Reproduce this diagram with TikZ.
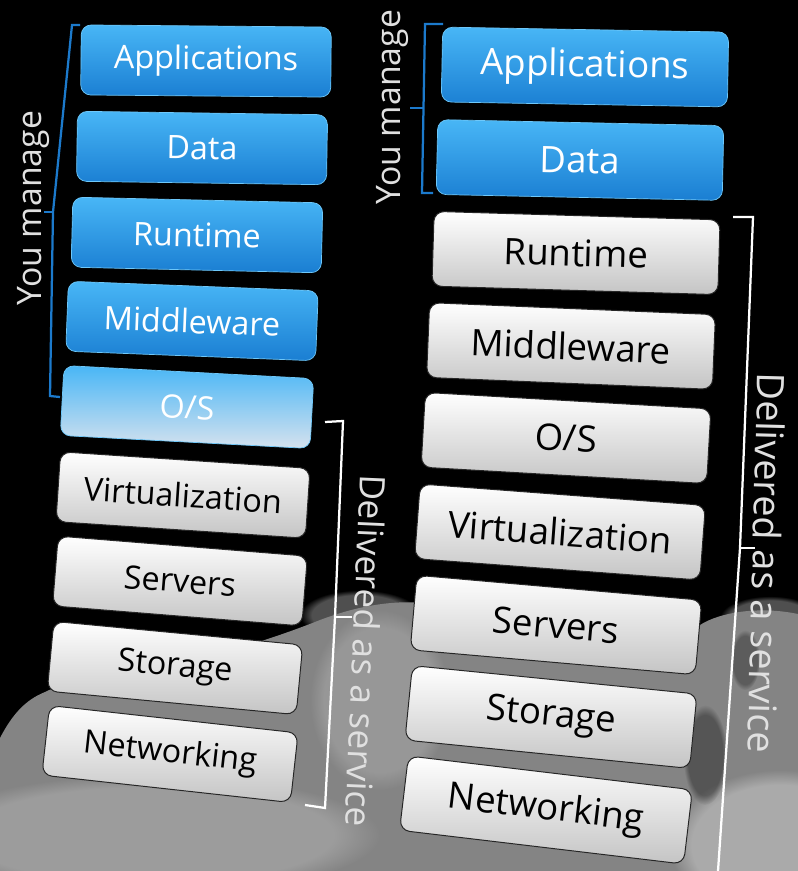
\documentclass[tikz,border=0pt]{standalone}
\usepackage{fontspec}
\setmainfont{Open Sans}
\usetikzlibrary{fadings}
\definecolor{mbluetop}{RGB}{72,182,246}
\definecolor{mbluebot}{RGB}{26,126,210}
\definecolor{mblueline}{RGB}{110,200,250}
\definecolor{osbot}{RGB}{214,226,238}
\definecolor{osmid}{RGB}{150,205,245}
\definecolor{greybot}{RGB}{196,196,196}
\definecolor{cloudgrey}{RGB}{132,132,132}
\definecolor{cloudlight}{RGB}{180,180,180}
\definecolor{bracketblue}{RGB}{28,122,204}

\tikzset{
  layer/.style={rounded corners=0.25cm, inner sep=0pt, draw},
  leftlayer/.style={layer, minimum width=6.25cm, minimum height=1.75cm, font=\fontsize{23}{23}\selectfont},
  rightlayer/.style={layer, minimum width=7.15cm, minimum height=1.87cm, font=\fontsize{26}{26}\selectfont},
  yours/.style={top color=mbluetop, bottom color=mbluebot, draw=mblueline, line width=0.5pt, text=white},
  osyours/.style={top color=mbluetop, middle color=osmid, bottom color=osbot, draw=mblueline, line width=0.5pt, text=white},
  theirs/.style={top color=white, bottom color=greybot, draw=black!85, line width=0.7pt, text=black},
  bluebracket/.style={draw=bracketblue, line width=1.6pt},
  whitebracket/.style={draw=white, line width=1.6pt},
  sidelabel/.style={text=white!88!black, font=\fontsize{24}{24}\selectfont},
  puff/.style={path fading=circle with fuzzy edge 20 percent},
}

\begin{document}
\begin{tikzpicture}[x=0.025cm, y=-0.025cm]
  %%%%% BACKGROUND %%%%%
  \fill[black] (0,0) rectangle (798,871);
  \useasboundingbox (0,0) rectangle (798,871);

  % cloud
  \fill[cloudgrey] (0,871) -- (0,738) .. controls (12,715) and (25,700) .. (45,692)
    .. controls (60,684) and (90,680) .. (120,676)
    .. controls (200,662) and (270,640) .. (320,620)
    .. controls (360,605) and (400,598) .. (440,605)
    -- (700,625) .. controls (720,612) and (760,606) .. (798,614) -- (798,871) -- cycle;
  \fill[cloudgrey, puff, opacity=0.6] (360,615) ellipse (60 and 25);
  \fill[cloudgrey, puff, opacity=0.6] (770,618) ellipse (50 and 22);
  \fill[cloudlight, puff, opacity=0.8] (780,845) ellipse (110 and 75);
  \fill[cloudlight, puff, opacity=0.5] (150,835) ellipse (230 and 60);
  \fill[cloudlight, puff, opacity=0.4] (380,700) ellipse (70 and 90);
  \fill[black, puff, opacity=0.35] (705,755) ellipse (22 and 50);
  \fill[black, puff, opacity=0.3] (745,660) ellipse (15 and 30);

  %%%%% LEFT STACK %%%%%
  \node[leftlayer, yours, rotate=-0.5] (appL) at (206,61) {Applications};
  \node[leftlayer, yours, rotate=-0.8] (dataL) at (202,148) {Data};
  \node[leftlayer, yours, rotate=-1.3] (runL) at (197,235) {Runtime};
  \node[leftlayer, yours, rotate=-2.2] (midL) at (192,321) {Middleware};
  \node[leftlayer, osyours, rotate=-3] (osL) at (187,407) {O/S};
  \node[leftlayer, theirs, rotate=-3.8] (virtL) at (183,495) {Virtualization};
  \node[leftlayer, theirs, rotate=-4.6] (servL) at (180,581) {Servers};
  \node[leftlayer, theirs, rotate=-5.4] (storL) at (175,668) {Storage};
  \node[leftlayer, theirs, rotate=-6.3] (netL) at (170,754) {Networking};

  % brackets
  \draw[bluebracket] (80,25) -- (72,25) -- (53,212) -- (50,396) -- (60,397);
  \draw[bluebracket] (53,212) -- (44,212);
  \node[sidelabel, rotate=90] (manageL) at (34,208) {You manage};

  \draw[whitebracket] (325,422) -- (343,421) -- (335,617) -- (325,808) -- (305,805);
  \draw[whitebracket] (335,617) -- (352,617);
  \node[sidelabel, font=\fontsize{25}{25}\selectfont, rotate=-92.5] (serviceL) at (366,651) {Delivered as a service};

  %%%%% RIGHT STACK %%%%%
  \node[rightlayer, yours, rotate=-1] (appR) at (585,67) {Applications};
  \node[rightlayer, yours, rotate=-1.2] (dataR) at (580,160) {Data};
  \node[rightlayer, theirs, rotate=-1.7] (runR) at (576,253) {Runtime};
  \node[rightlayer, theirs, rotate=-2.4] (midR) at (571,346) {Middleware};
  \node[rightlayer, theirs, rotate=-3.3] (osR) at (566,438) {O/S};
  \node[rightlayer, theirs, rotate=-4.3] (virtR) at (560,532) {Virtualization};
  \node[rightlayer, theirs, rotate=-5] (servR) at (556,625) {Servers};
  \node[rightlayer, theirs, rotate=-5.7] (storR) at (551,717) {Storage};
  \node[rightlayer, theirs, rotate=-6.8] (netR) at (546,810) {Networking};

  % brackets
  \draw[bluebracket] (443,24) -- (425,24) -- (422,193) -- (433,193);
  \draw[bluebracket] (424,108) -- (410,108);
  \node[sidelabel, rotate=90] (manageR) at (393,107) {You manage};

  \draw[whitebracket] (733,217) -- (753,217) -- (740,548) -- (718,871);
  \draw[whitebracket] (740,548) -- (755,548);
  \node[sidelabel, font=\fontsize{27}{27}\selectfont, rotate=-91.5] (serviceR) at (767,563) {Delivered as a service};
\end{tikzpicture}
\end{document}
